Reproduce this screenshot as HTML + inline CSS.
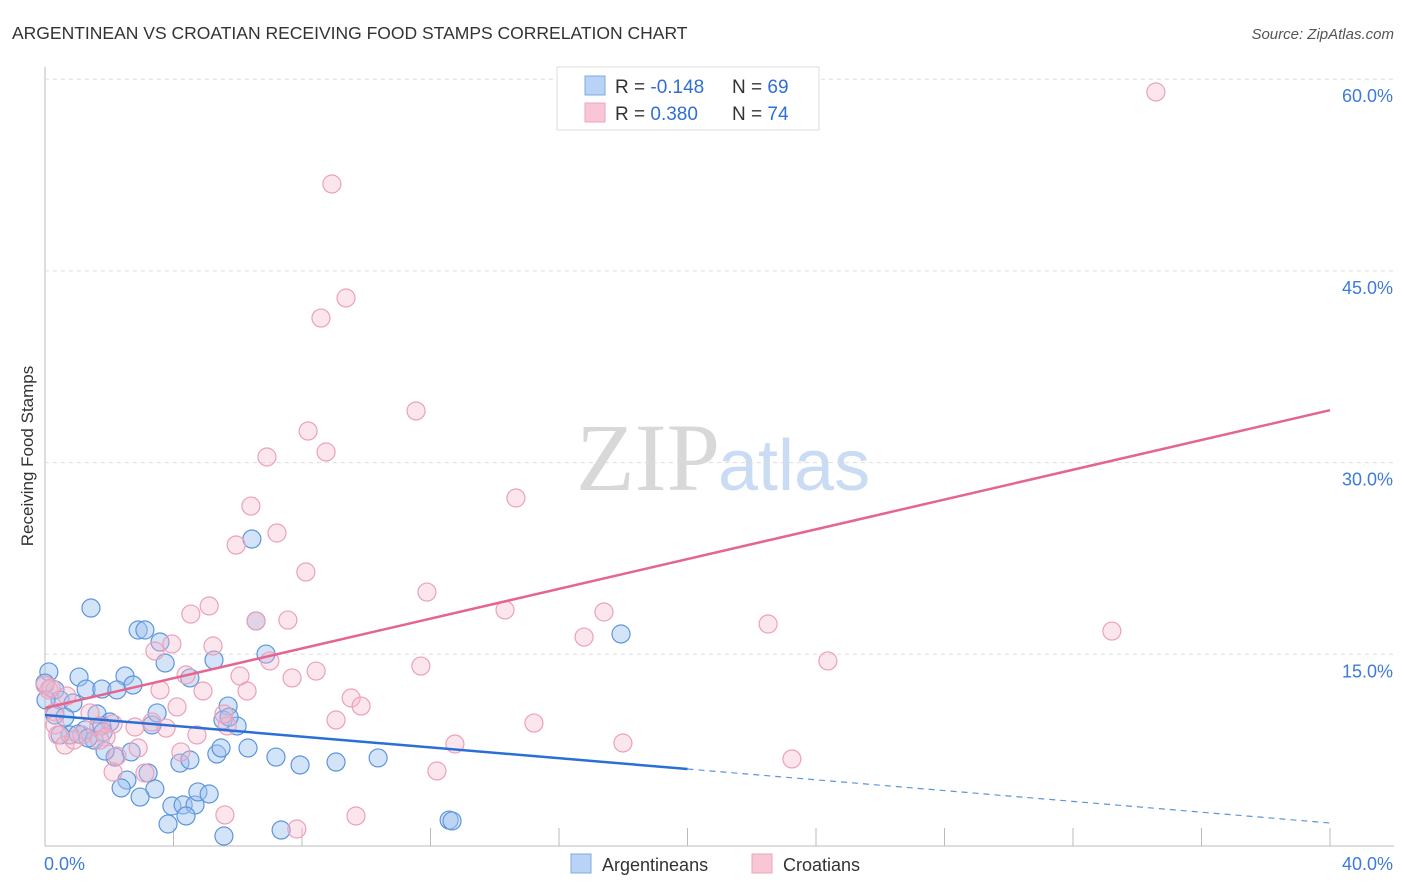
<!DOCTYPE html>
<html><head><meta charset="utf-8"><style>
body{margin:0;background:#fff;font-family:"Liberation Sans",sans-serif;}
#wrap{position:relative;width:1406px;height:892px;overflow:hidden;}
</style></head><body>
<div id="wrap">
<svg id="svg" width="1406" height="892">
<text x="12" y="39" font-size="17.5" fill="#333">ARGENTINEAN VS CROATIAN RECEIVING FOOD STAMPS CORRELATION CHART</text>
<text x="1394" y="39" font-size="15" fill="#555" font-style="italic" text-anchor="end">Source: ZipAtlas.com</text>
<text x="33" y="456" font-size="17" fill="#333" text-anchor="middle" transform="rotate(-90 33 456)">Receiving Food Stamps</text>
<text x="720" y="490" font-size="96" fill="#d8d8d8" text-anchor="end" font-family="Liberation Serif,serif">ZIP</text>
<text x="718" y="490" font-size="72" fill="#c9dcf3">atlas</text>
<g id="grid"></g><g id="pts"></g><g id="lines"></g>
<g>
<rect x="557" y="67" width="262" height="63" fill="#fff" stroke="#ddd"/>
<rect x="585" y="76" width="20" height="19" fill="#b8d3f5" stroke="#7fa8e0"/>
<rect x="585" y="103" width="20" height="19" fill="#f9c6d6" stroke="#eba5bd"/>
<text x="615" y="93" font-size="19" fill="#333">R = <tspan fill="#2f6fd6">-0.148</tspan></text>
<text x="732" y="93" font-size="19" fill="#333">N = <tspan fill="#2f6fd6">69</tspan></text>
<text x="615" y="120" font-size="19" fill="#333">R = <tspan fill="#2f6fd6"> 0.380</tspan></text>
<text x="732" y="120" font-size="19" fill="#333">N = <tspan fill="#2f6fd6">74</tspan></text>
</g>
<g>
<rect x="571" y="854" width="20" height="19" fill="#b8d3f5" stroke="#7fa8e0"/>
<text x="602" y="871" font-size="18" fill="#333">Argentineans</text>
<rect x="752" y="854" width="20" height="19" fill="#f9c6d6" stroke="#eba5bd"/>
<text x="783" y="871" font-size="18" fill="#333">Croatians</text>
</g>
</svg></div>
<script>
const yTicks=[15,30,45,60];
const yTickLabels=["15.0%","30.0%","45.0%","60.0%"];
const xTickLabels=["0.0%","40.0%"];
const blueX=[1.43,2.90,3.11,3.58,3.74,5.26,6.44,6.57,6.88,17.93,1.06,1.28,2.49,1.77,2.24,2.74,4.51,5.70,0.12,0.31,0.47,0.87,1.62,0.31,0.62,2.02,3.33,3.49,5.98,5.54,1.25,1.77,0.78,1.53,1.81,2.18,1.87,2.68,3.21,2.55,2.37,3.42,2.96,3.95,4.30,4.67,4.76,5.11,4.20,4.51,5.35,5.48,6.32,7.19,7.94,9.06,10.37,3.83,4.39,5.57,7.35,12.58,12.67,5.73,0.0,0.03,0.47,1.03,1.34];
const blueY=[18.62,16.90,16.90,15.96,14.32,14.55,24.02,17.61,15.02,16.59,13.22,12.28,13.30,12.28,12.21,12.60,13.15,10.95,13.62,12.21,11.42,11.19,10.33,10.25,10.09,9.70,9.47,10.41,9.39,9.86,9.08,9.39,8.69,8.29,8.92,6.96,7.43,7.36,5.71,5.16,4.54,4.46,3.83,3.13,3.21,3.21,4.23,4.07,6.49,6.73,7.20,7.67,7.67,6.96,6.34,6.57,6.89,1.72,2.35,0.78,1.25,2.03,1.96,10.09,12.75,11.42,8.69,8.76,8.45];
const pinkX=[34.58,8.93,9.37,8.59,11.55,8.19,6.91,8.75,14.66,6.41,7.22,5.95,8.12,11.89,5.11,4.54,6.57,7.56,14.32,17.40,16.78,22.51,33.21,24.37,3.95,3.42,5.23,7.00,6.07,4.39,8.44,7.69,11.70,3.58,4.92,6.29,9.53,9.84,4.11,9.06,15.22,1.40,3.33,5.67,3.77,2.80,1.68,5.57,2.12,1.90,0.31,0.31,0.12,0.68,0.40,0.62,0.90,1.15,1.71,4.23,4.73,2.90,2.24,2.12,3.11,12.76,17.99,12.20,23.25,5.60,9.68,7.84,0.0,0.19];
const pinkY=[59.00,51.80,42.88,41.31,34.04,32.47,30.44,30.83,27.23,26.60,24.49,23.55,21.44,19.87,18.78,18.15,17.61,17.68,18.47,18.31,16.35,17.37,16.82,14.48,15.81,15.26,15.65,14.48,13.30,13.38,13.69,13.15,14.08,12.21,12.13,12.13,11.58,10.95,10.88,9.86,9.62,10.41,9.70,9.39,9.23,9.31,9.39,10.33,9.55,8.53,10.49,9.47,12.21,11.74,8.69,7.90,8.29,8.69,8.29,7.36,8.69,7.67,7.04,5.79,5.71,7.98,8.06,5.87,6.81,2.43,2.35,1.33,12.60,12.36];
const blueTrend=[10.25,1.80]; // y at x=0 and x=40
const blueSolidEnd=20;
const pinkTrend=[10.80,34.1];
const NS="http://www.w3.org/2000/svg";
const X=v=>45+v*32.125, Y=v=>846-v*12.78;
function mk(tag,attrs,parent){const e=document.createElementNS(NS,tag);for(const k in attrs)e.setAttribute(k,attrs[k]);parent.appendChild(e);return e;}
const grid=document.getElementById('grid');
let ax=mk('line',{x1:45,y1:67,x2:45,y2:846,stroke:'#bbb'},grid);

let bx=mk('line',{x1:45,y1:846,x2:1394,y2:846,stroke:'#bbb'},grid);

yTicks.forEach((t,i)=>{
 const g=mk('line',{x1:45,y1:Y(t),x2:1394,y2:Y(t),stroke:'#ddd','stroke-dasharray':'4,4'},grid);
 
 const tx=mk('text',{x:1393,y:Y(t)+23,'font-size':18,fill:'#3d7bd9','text-anchor':'end'},grid);
 tx.textContent=yTickLabels[i];
 
});
for(let i=1;i<=10;i++){const v=i*4;
 const t=mk('line',{x1:X(v),y1:828,x2:X(v),y2:846,stroke:'#bbb'},grid);
 }
[[0,'start',44],[40,'end',1393]].forEach((d,i)=>{
 const tx=mk('text',{x:d[2],y:870,'font-size':18,fill:'#3d7bd9','text-anchor':d[1]},grid);
 tx.textContent=xTickLabels[i];
 
});
const pts=document.getElementById('pts');
blueX.forEach((x,i)=>{
 const c=mk('circle',{cx:X(x),cy:Y(blueY[i]),r:9,fill:'rgba(160,196,240,0.45)',stroke:'#5d95dc','stroke-width':1.2},pts);
 
});
pinkX.forEach((x,i)=>{
 const c=mk('circle',{cx:X(x),cy:Y(pinkY[i]),r:9,fill:'rgba(246,182,202,0.35)',stroke:'#eca0bb','stroke-width':1.2},pts);
 
});
const lines=document.getElementById('lines');
const by=x=>blueTrend[0]+(blueTrend[1]-blueTrend[0])*x/40;
let l1=mk('line',{x1:X(0),y1:Y(by(0)),x2:X(blueSolidEnd),y2:Y(by(blueSolidEnd)),stroke:'#2b6fd6','stroke-width':2.5},lines);

let l2=mk('line',{x1:X(blueSolidEnd),y1:Y(by(blueSolidEnd)),x2:X(40),y2:Y(by(40)),stroke:'#5d95dc','stroke-width':1.2,'stroke-dasharray':'6,5'},lines);

let l3=mk('line',{x1:X(0),y1:Y(pinkTrend[0]),x2:X(40),y2:Y(pinkTrend[1]),stroke:'#e4658f','stroke-width':2.5},lines);

</script>
</body></html>
